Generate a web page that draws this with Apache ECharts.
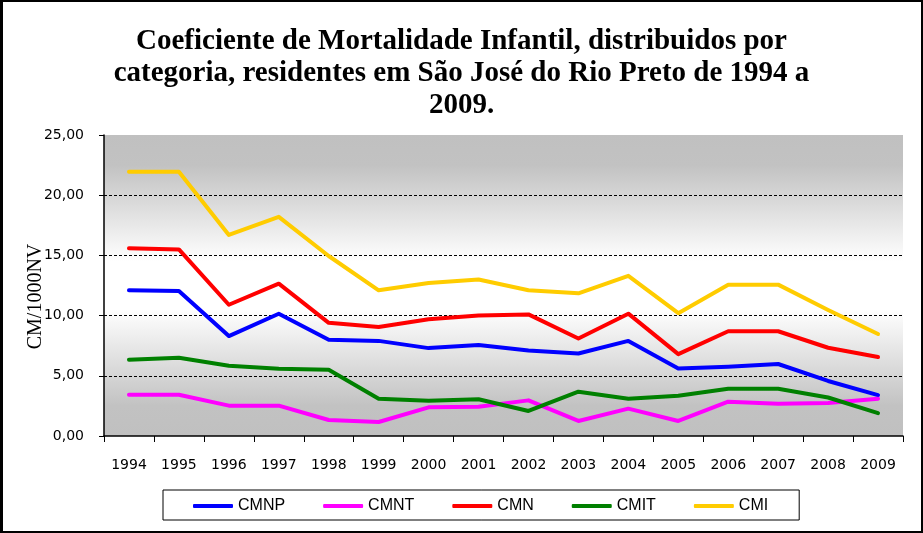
<!DOCTYPE html>
<html>
<head>
<meta charset="utf-8">
<script src="https://cdn.jsdelivr.net/npm/echarts@6/dist/echarts.min.js"></script>
<style>
  html, body { margin: 0; padding: 0; background: #fff; }
  #wrap { position: relative; width: 923px; height: 533px; }
  #chart { width: 923px; height: 533px; }
  #frame { position: absolute; left: 0; top: 0; right: 0; bottom: 0; border: 2px solid #000; border-left-width: 3px; pointer-events: none; }
</style>
</head>
<body>
<div id="wrap"><div id="chart"></div><div id="frame"></div></div>
<script>
const years = ['1994','1995','1996','1997','1998','1999','2000','2001','2002','2003','2004','2005','2006','2007','2008','2009'];
const CMNP = [12.10, 12.05, 8.30, 10.15, 8.00, 7.90, 7.30, 7.55, 7.10, 6.85, 7.90, 5.60, 5.75, 5.98, 4.57, 3.40];
const CMNT = [3.43, 3.43, 2.52, 2.52, 1.33, 1.16, 2.38, 2.43, 2.96, 1.25, 2.27, 1.25, 2.85, 2.68, 2.74, 3.10];
const CMN  = [15.60, 15.50, 10.90, 12.65, 9.40, 9.05, 9.70, 10.00, 10.10, 8.10, 10.16, 6.80, 8.70, 8.70, 7.33, 6.56];
const CMIT = [6.34, 6.50, 5.84, 5.59, 5.50, 3.10, 2.93, 3.05, 2.08, 3.68, 3.10, 3.35, 3.93, 3.93, 3.20, 1.90];
const CMI  = [21.95, 21.95, 16.70, 18.20, 14.95, 12.10, 12.70, 13.00, 12.10, 11.85, 13.30, 10.20, 12.57, 12.57, 10.47, 8.47];
const seriesNames = ['CMNP','CMNT','CMN','CMIT','CMI'];
const seriesData = [CMNP, CMNT, CMN, CMIT, CMI];
const seriesColors = ['#0000ff','#ff00ff','#ff0000','#008000','#ffcc00'];
const titleText = 'Coeficiente de Mortalidade Infantil, distribuidos por\ncategoria, residentes em São José do Rio Preto de 1994 a\n2009.';
const yAxisName = 'CM/1000NV';

const chart = echarts.init(document.getElementById('chart'), null, { renderer: 'canvas' });
const option = {
  animation: false,
  backgroundColor: '#ffffff',
  title: {
    text: titleText,
    left: 'center',
    top: 21,
    textStyle: { fontFamily: 'Liberation Serif', fontSize: 29, fontWeight: 'bold', lineHeight: 32, color: '#000' }
  },
  legend: {
    data: seriesNames,
    left: 163,
    top: 490,
    orient: 'horizontal',
    padding: [8, 31, 6, 30],
    itemGap: 38,
    itemWidth: 40,
    itemHeight: 4,
    icon: 'roundRect',
    borderColor: '#000',
    borderWidth: 1,
    textStyle: { fontFamily: 'Liberation Sans', fontSize: 16, color: '#000' }
  },
  grid: {
    left: 104, top: 135, right: 20, bottom: 97,
    show: true,
    borderWidth: 0,
    backgroundColor: {
      type: 'linear', x: 0, y: 0, x2: 0, y2: 1,
      colorStops: [
        { offset: 0, color: '#c0c0c0' },
        { offset: 0.1, color: '#c2c2c2' },
        { offset: 0.42, color: '#ffffff' },
        { offset: 0.58, color: '#ffffff' },
        { offset: 0.9, color: '#c2c2c2' },
        { offset: 1, color: '#c0c0c0' }
      ]
    }
  },
  xAxis: {
    type: 'category',
    data: years,
    boundaryGap: true,
    axisLine: { lineStyle: { color: '#000', width: 1.5 } },
    axisTick: { show: true, inside: false, length: 6, lineStyle: { color: '#000' } },
    axisLabel: { margin: 22, fontFamily: 'DejaVu Sans', fontSize: 14, color: '#000' },
    splitLine: { show: false }
  },
  yAxis: {
    type: 'value',
    min: 0, max: 25, interval: 5,
    name: yAxisName,
    nameLocation: 'middle',
    nameGap: 58,
    nameMoveOverlap: false,
    nameTextStyle: { fontFamily: 'Liberation Serif', fontSize: 20, color: '#000', padding: [0, 22, 0, 0] },
    axisLine: { show: true, lineStyle: { color: '#000', width: 1.5 } },
    axisTick: { show: true, inside: false, length: 5, lineStyle: { color: '#000' } },
    axisLabel: {
      margin: 20, fontFamily: 'DejaVu Sans', fontSize: 14, color: '#000',
      formatter: v => v.toFixed(2).replace('.', ',')
    },
    splitLine: {
      show: true,
      lineStyle: { color: ['rgba(0,0,0,0)','#000','#000','#000','#000','rgba(0,0,0,0)'], type: [3, 2], width: 1 }
    }
  },
  series: seriesNames.map((n, i) => ({
    name: n,
    type: 'line',
    data: seriesData[i],
    symbol: 'none',
    showSymbol: false,
    color: seriesColors[i],
    lineStyle: { color: seriesColors[i], width: 4, cap: 'round', join: 'round' }
  }))
};
chart.setOption(option);
</script>
</body>
</html>
